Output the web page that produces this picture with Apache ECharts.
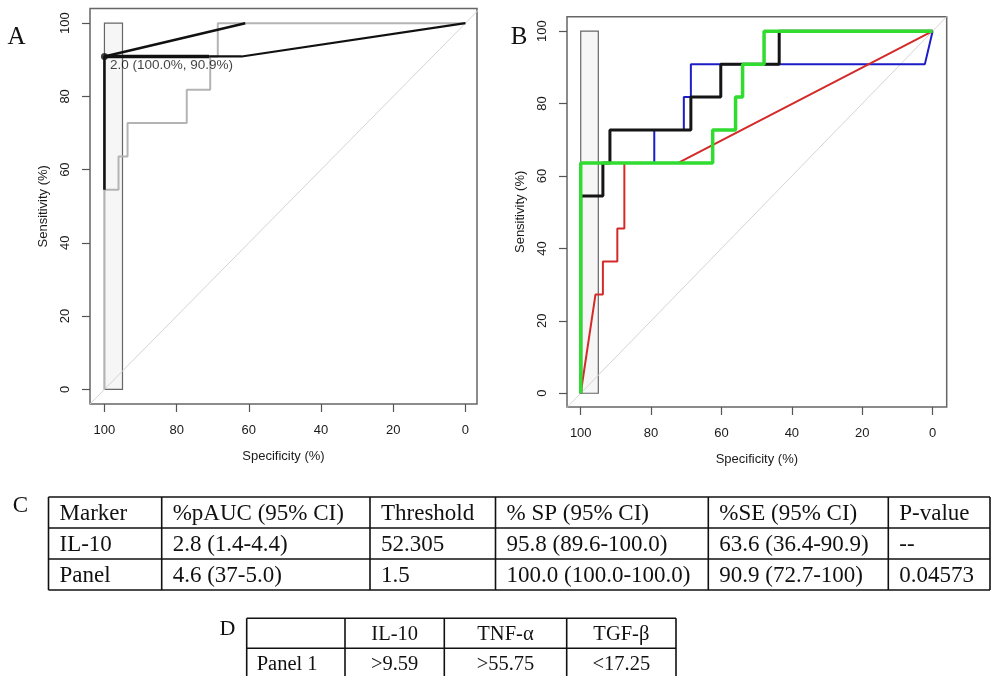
<!DOCTYPE html>
<html>
<head>
<meta charset="utf-8">
<script src="https://cdn.jsdelivr.net/npm/echarts@6/dist/echarts.min.js"></script>
<style>
html,body{margin:0;padding:0;background:#fff;}
#chart{width:992px;height:676px;}
</style>
</head>
<body>
<div id="chart"></div>
<script>
// ---------- data ----------
var tickValues = [0, 20, 40, 60, 80, 100];
var ciBox = [[100, 95, 0, 100]];          // specificity from, to, sensitivity from, to
var diagonal = [[110, -10], [-10, 110]];

// Panel A
var aIL10 = [[100,0],[100,54.5],[96.1,54.5],[96.1,63.6],[93.6,63.6],[93.6,72.7],[77.2,72.7],[77.2,81.8],[70.7,81.8],[70.7,90.9],[68.6,90.9],[68.6,100],[0,100]];
var aPanelUpper = [[100,54.5],[100,90.9],[61,100]];
var aPanelThick = [[100,90.9],[71,90.9]];
var aPanelLower = [[71,90.9],[62,90.9],[0,100]];
var aBest = [[100, 90.9]];
var aBestLabel = '2.0 (100.0%, 90.9%)';

// Panel B
var bBlue  = [[100,0],[100,63.6],[79.1,63.6],[79.1,72.7],[70.7,72.7],[70.7,81.8],[68.7,81.8],[68.7,90.9],[2.2,90.9],[0,100]];
var bBlack = [[100,0],[100,54.5],[93.7,54.5],[93.7,63.6],[91.7,63.6],[91.7,72.7],[68.7,72.7],[68.7,81.8],[60.2,81.8],[60.2,90.9],[43.6,90.9],[43.6,100],[0,100]];
var bRed   = [[100,0],[95.8,27.3],[93.7,27.3],[93.7,36.4],[89.6,36.4],[89.6,45.5],[87.6,45.5],[87.6,63.6],[72.3,63.6],[0,100]];
var bGreen = [[100,0],[100,63.6],[62.5,63.6],[62.5,72.7],[56,72.7],[56,81.8],[54,81.8],[54,90.9],[47.9,90.9],[47.9,100],[0,100]];

// Tables
var tableCHeader = ['Marker', '%pAUC (95% CI)', 'Threshold', '% SP (95% CI)', '%SE (95% CI)', 'P-value'];
var tableCRows = [
  ['IL-10', '2.8 (1.4-4.4)', '52.305', '95.8 (89.6-100.0)', '63.6 (36.4-90.9)', '--'],
  ['Panel', '4.6 (37-5.0)', '1.5', '100.0 (100.0-100.0)', '90.9 (72.7-100)', '0.04573']
];
var tableDHeader = ['', 'IL-10', 'TNF-\u03b1', 'TGF-\u03b2'];
var tableDRows = [['Panel 1', '>9.59', '>55.75', '<17.25']];

// ---------- layout ----------
var sans = '"Liberation Sans", Arial, sans-serif';
var serif = '"Liberation Serif", "Times New Roman", serif';
var tickCol = '#555';
var txtCol = '#1a1a1a';

function xAx(gi, min, max) {
  return {
    gridIndex: gi, type: 'value', min: min, max: max, inverse: true,
    axisLine: {show: false, onZero: false}, splitLine: {show: false},
    axisTick: {show: true, customValues: tickValues, length: 8, lineStyle: {color: tickCol, width: 1.2}},
    axisLabel: {customValues: tickValues, margin: 20, fontSize: 13, color: txtCol, fontFamily: sans},
    name: 'Specificity (%)', nameLocation: 'middle', nameGap: 46,
    nameTextStyle: {fontSize: 13, color: txtCol, fontFamily: sans}
  };
}
function yAx(gi, min, max) {
  return {
    gridIndex: gi, type: 'value', min: min, max: max,
    axisLine: {show: false, onZero: false}, splitLine: {show: false},
    axisTick: {show: true, customValues: tickValues, length: 8, lineStyle: {color: tickCol, width: 1.2}},
    axisLabel: {customValues: tickValues, rotate: 90, margin: 18, fontSize: 13, color: txtCol, fontFamily: sans},
    name: 'Sensitivity (%)', nameLocation: 'middle', nameGap: 40, nameRotate: 90,
    nameTextStyle: {fontSize: 13, color: txtCol, fontFamily: sans}
  };
}
function lineS(idx, data, color, width, z) {
  return {type: 'line', xAxisIndex: idx, yAxisIndex: idx, data: data, showSymbol: false, symbol: 'none',
    lineStyle: {color: color, width: width}, z: z, animation: false, silent: true};
}
function boxS(idx) {
  return {type: 'custom', xAxisIndex: idx, yAxisIndex: idx, data: ciBox, z: 1, animation: false, silent: true,
    renderItem: function (params, api) {
      var p1 = api.coord([api.value(0), api.value(2)]);
      var p2 = api.coord([api.value(1), api.value(3)]);
      return {type: 'rect', shape: {x: Math.min(p1[0], p2[0]), y: Math.min(p1[1], p2[1]),
        width: Math.abs(p2[0] - p1[0]), height: Math.abs(p2[1] - p1[1])},
        style: {fill: '#f6f6f6', stroke: '#666', lineWidth: 1.2}};
    }};
}

// table graphics
var graphics = [];
function addText(t, x, y, size, align) {
  graphics.push({type: 'text', silent: true, style: {text: t, x: x, y: y, font: size + 'px ' + serif, fill: '#111', align: align || 'left', verticalAlign: 'middle'}});
}
function addLine(x1, y1, x2, y2) {
  graphics.push({type: 'line', silent: true, shape: {x1: x1, y1: y1, x2: x2, y2: y2}, style: {stroke: '#111', lineWidth: 1.6}});
}
function buildTable(header, rows, colX, rowY, size, pad, centered) {
  var allRows = [header].concat(rows);
  for (var r = 0; r < rowY.length; r++) addLine(colX[0], rowY[r], colX[colX.length - 1], rowY[r]);
  for (var c = 0; c < colX.length; c++) addLine(colX[c], rowY[0], colX[c], rowY[rowY.length - 1]);
  for (var i = 0; i < allRows.length; i++) {
    var cy = (rowY[i] + rowY[i + 1]) / 2 + 1;
    for (var j = 0; j < allRows[i].length; j++) {
      if (centered && j > 0) addText(allRows[i][j], (colX[j] + colX[j + 1]) / 2, cy, size, 'center');
      else addText(allRows[i][j], colX[j] + pad, cy, size, 'left');
    }
  }
}
buildTable(tableCHeader, tableCRows, [48.5, 161.7, 370, 495.5, 708.3, 888.3, 990], [497, 528, 559, 590], 23, 11, false);
buildTable(tableDHeader, tableDRows, [246.7, 345, 444.3, 566.7, 676], [618.3, 648.3, 678.3], 20.5, 10, true);
addText('A', 16.5, 37, 25, 'center');
addText('B', 519, 37, 25, 'center');
addText('C', 20.5, 506, 23, 'center');
addText('D', 227.5, 629, 22, 'center');

var option = {
  animation: false,
  backgroundColor: '#fff',
  grid: [
    {left: 90, top: 8.5, width: 387, height: 395.5, show: true, borderColor: '#666', borderWidth: 1.5, backgroundColor: 'transparent'},
    {left: 567, top: 16.7, width: 379.7, height: 390.3, show: true, borderColor: '#666', borderWidth: 1.5, backgroundColor: 'transparent'}
  ],
  xAxis: [xAx(0, -3.2, 104), xAx(1, -4, 103.9)],
  yAxis: [yAx(0, -4, 104), yAx(1, -3.8, 104)],
  series: [
    boxS(0),
    lineS(0, diagonal, '#d4d4d4', 1, 2),
    lineS(0, aIL10, '#b4b4b4', 2, 3),
    lineS(0, aPanelUpper, '#111', 2.6, 4),
    lineS(0, aPanelThick, '#111', 3.4, 4),
    lineS(0, aPanelLower, '#111', 2.2, 4),
    {type: 'scatter', xAxisIndex: 0, yAxisIndex: 0, data: aBest, symbolSize: 7, z: 5, silent: true,
      itemStyle: {color: '#111'},
      label: {show: true, position: 'right', offset: [-3, 9], formatter: aBestLabel,
        fontSize: 13.5, color: '#111', fontFamily: sans}},
    boxS(1),
    lineS(1, diagonal, '#d4d4d4', 1, 2),
    lineS(1, bBlue, '#1c1cc8', 2, 3),
    lineS(1, bBlack, '#151515', 3, 4),
    lineS(1, bRed, '#d42a2a', 2, 5),
    lineS(1, bGreen, '#2fdc2f', 3.5, 6)
  ],
  graphic: graphics
};
var chart = echarts.init(document.getElementById('chart'), null, {renderer: 'canvas'});
chart.setOption(option);
</script>
</body>
</html>
